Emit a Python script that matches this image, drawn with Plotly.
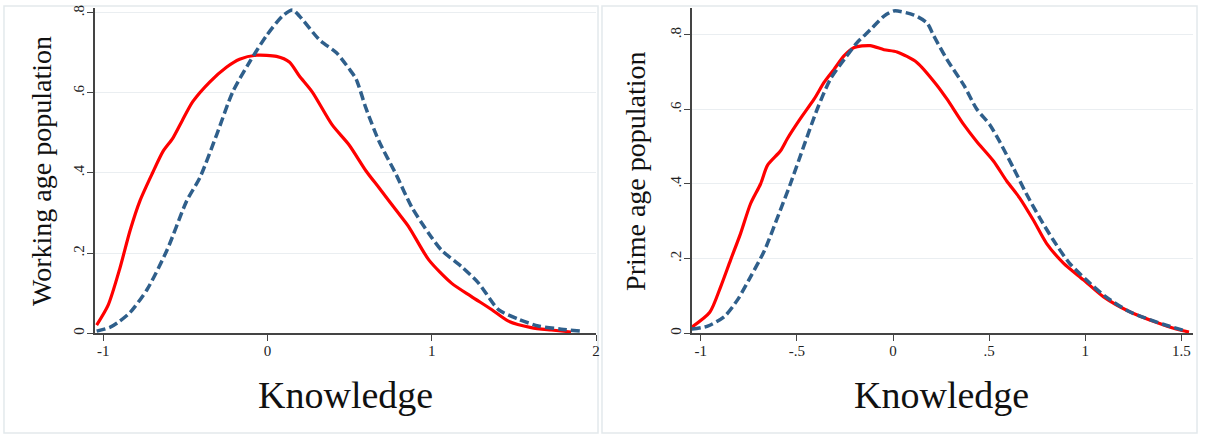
import plotly.graph_objects as go

# ---------------- data ----------------
# Left panel: Working age population
work_red_x = [-1.04, -0.97, -0.90, -0.836, -0.776, -0.70, -0.636, -0.576, -0.52, -0.455, -0.352, -0.25, -0.17,
              -0.067, 0.055, 0.133, 0.194, 0.273, 0.394, 0.497, 0.6, 0.679, 0.8, 0.861, 0.982, 1.12, 1.24,
              1.364, 1.467, 1.606, 1.727, 1.848]
work_red_y = [0.02, 0.07, 0.16, 0.257, 0.331, 0.40, 0.454, 0.487, 0.53, 0.578, 0.627, 0.664, 0.684,
              0.694, 0.691, 0.677, 0.642, 0.602, 0.52, 0.47, 0.405, 0.363, 0.298, 0.265, 0.183, 0.125, 0.092,
              0.059, 0.03, 0.014, 0.008, 0.003]
work_blue_x = [-1.04, -0.957, -0.90, -0.836, -0.733, -0.612, -0.491, -0.412, -0.309, -0.212, -0.109, -0.006,
               0.091, 0.152, 0.194, 0.315, 0.42, 0.497, 0.539, 0.6, 0.679, 0.782, 0.879, 0.982, 1.06, 1.182,
               1.285, 1.406, 1.527, 1.648, 1.788, 1.909]
work_blue_y = [0.005, 0.015, 0.03, 0.052, 0.109, 0.207, 0.331, 0.388, 0.496, 0.602, 0.677, 0.743,
               0.792, 0.807, 0.792, 0.733, 0.70, 0.66, 0.635, 0.561, 0.479, 0.397, 0.314, 0.249, 0.207, 0.166,
               0.125, 0.059, 0.035, 0.018, 0.01, 0.005]

# Right panel: Prime age population
prime_red_x = [-1.047, -0.953, -0.896, -0.845, -0.793, -0.741, -0.689, -0.653, -0.585, -0.549, -0.482, -0.41,
               -0.358, -0.306, -0.254, -0.202, -0.119, -0.047, 0.021, 0.124, 0.228, 0.28, 0.368, 0.435, 0.523,
               0.591, 0.658, 0.731, 0.798, 0.886, 0.99, 1.093, 1.228, 1.368, 1.472, 1.539]
prime_red_y = [0.016, 0.056, 0.125, 0.196, 0.267, 0.347, 0.40, 0.45, 0.489, 0.522, 0.575, 0.628,
               0.673, 0.708, 0.744, 0.766, 0.771, 0.76, 0.754, 0.726, 0.665, 0.628, 0.559, 0.514, 0.461,
               0.408, 0.363, 0.302, 0.241, 0.188, 0.143, 0.098, 0.058, 0.029, 0.011, 0.003]
prime_blue_x = [-1.047, -0.964, -0.876, -0.808, -0.741, -0.668, -0.601, -0.534, -0.461, -0.394, -0.326, -0.254,
                -0.187, -0.119, -0.047, 0.005, 0.109, 0.176, 0.212, 0.28, 0.368, 0.435, 0.503, 0.554, 0.627,
                0.694, 0.762, 0.834, 0.917, 1.005, 1.1, 1.228, 1.404, 1.523]
prime_blue_y = [0.011, 0.019, 0.045, 0.09, 0.151, 0.222, 0.31, 0.4, 0.506, 0.601, 0.681, 0.734,
                0.779, 0.813, 0.85, 0.864, 0.853, 0.832, 0.797, 0.734, 0.665, 0.601, 0.559, 0.514, 0.442,
                0.373, 0.31, 0.249, 0.188, 0.143, 0.1, 0.058, 0.024, 0.006]

y_ticks = [0, 0.2, 0.4, 0.6, 0.8]
y_tick_text = ["0", ".2", ".4", ".6", ".8"]
left_x_ticks = [-1, 0, 1, 2]
left_x_text = ["-1", "0", "1", "2"]
right_x_ticks = [-1, -0.5, 0, 0.5, 1, 1.5]
right_x_text = ["-1", "-.5", "0", ".5", "1", "1.5"]

left_ylabel = "Working age population"
right_ylabel = "Prime age population"
xlabel = "Knowledge"

# ---------------- styling ----------------
W, H = 1205, 437
RED = "#ff0000"
BLUE = "#2f5f8b"
AXIS = "#444444"
GRID = "#eaeef1"
FONT = "Liberation Serif"

def px_x(p):
    return p / W

def px_y(p):
    return 1 - p / H

fig = go.Figure()

red_line = dict(color=RED, width=3.2, shape="spline", smoothing=0.7)
blue_line = dict(color=BLUE, width=3.5, dash="9px,4px", shape="spline", smoothing=0.7)

fig.add_trace(go.Scatter(x=work_red_x, y=work_red_y, mode="lines", xaxis="x", yaxis="y",
                         line=red_line, showlegend=False))
fig.add_trace(go.Scatter(x=work_blue_x, y=work_blue_y, mode="lines", xaxis="x", yaxis="y",
                         line=blue_line, showlegend=False))
fig.add_trace(go.Scatter(x=prime_red_x, y=prime_red_y, mode="lines", xaxis="x2", yaxis="y2",
                         line=red_line, showlegend=False))
fig.add_trace(go.Scatter(x=prime_blue_x, y=prime_blue_y, mode="lines", xaxis="x2", yaxis="y2",
                         line=blue_line, showlegend=False))

xcommon = dict(showline=True, linecolor=AXIS, linewidth=1.5, ticks="outside", ticklen=6, tickwidth=1,
               tickcolor=AXIS, showgrid=False, zeroline=False, ticklabelstandoff=-3,
               tickfont=dict(family=FONT, size=15, color="#222222"))
ycommon = dict(showline=True, linecolor=AXIS, linewidth=1.5, ticks="outside", ticklen=6, tickwidth=1,
               tickcolor=AXIS, showgrid=True, gridcolor=GRID, gridwidth=1, zeroline=False,
               tickvals=y_ticks, ticktext=y_tick_text, tickangle=-90, ticklabelstandoff=-3,
               tickfont=dict(family=FONT, size=15, color="#222222"))

fig.update_layout(
    width=W, height=H,
    margin=dict(l=0, r=0, t=0, b=0),
    paper_bgcolor="white", plot_bgcolor="white",
    xaxis=dict(domain=[px_x(95), px_x(598)], range=[-1.052, 2.0], anchor="y",
               tickvals=left_x_ticks, ticktext=left_x_text, **xcommon),
    yaxis=dict(domain=[px_y(334), px_y(5)], range=[0, 0.812], anchor="x", **ycommon),
    xaxis2=dict(domain=[px_x(694), px_x(1197)], range=[-1.047, 1.56], anchor="y2",
                tickvals=right_x_ticks, ticktext=right_x_text, **xcommon),
    yaxis2=dict(domain=[px_y(334), px_y(5)], range=[0, 0.872], anchor="x2", **ycommon),
)

# panel frames
for x0, x1 in [(4, 600), (604, 1201)]:
    fig.add_shape(type="rect", xref="paper", yref="paper",
                  x0=px_x(x0), x1=px_x(x1), y0=px_y(435), y1=px_y(3),
                  line=dict(color="#e3e9ec", width=1.5), layer="below")

# axis titles
def title(x, y, text, size, angle=0):
    fig.add_annotation(xref="paper", yref="paper", x=px_x(x), y=px_y(y), text=text, textangle=angle,
                       xanchor="center", yanchor="middle", showarrow=False,
                       font=dict(family=FONT, size=size, color="#111111"))

title(41, 170, left_ylabel, 28, -90)
title(637, 170, right_ylabel, 28, -90)
title(347, 397, xlabel, 38)
title(945, 397, xlabel, 38)

fig.write_html("out.html", config={"displayModeBar": False},
               post_script="document.body.style.margin='0px';document.body.style.overflow='hidden';")
